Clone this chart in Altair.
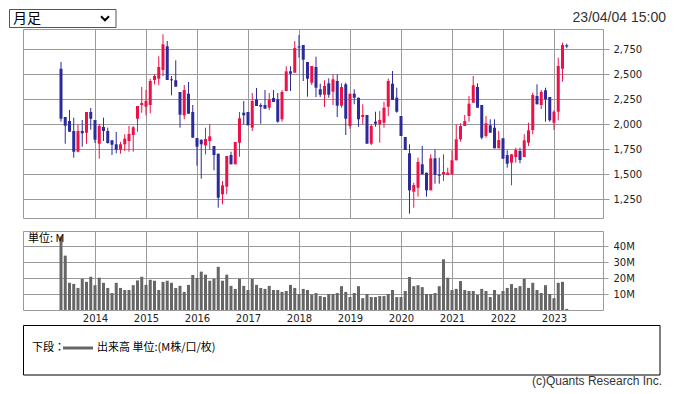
import altair as alt
import pandas as pd

# ---------------- data (monthly candles, May 2013 .. Apr 2023) ----------------
YEARS = ["2014", "2015", "2016", "2017", "2018", "2019", "2020", "2021", "2022", "2023"]
PRICE_TICKS = [1250, 1500, 1750, 2000, 2250, 2500, 2750]
VOLUME_TICKS = [10, 20, 30, 40]

OPEN = [2553, 2070, 2030, 1930, 1723, 1930, 1913, 2120, 2040, 1803,
        1970, 1930, 1837, 1797, 1743, 1797, 1830, 1890, 2053, 2190,
        2173, 2190, 2440, 2453, 2540, 2777, 2447, 2437, 2320, 2087,
        2303, 2120, 1860, 1843, 1787, 1830, 1780, 1703, 1297, 1373,
        1690, 1597, 1813, 2113, 2120, 1963, 2247, 2190, 2190, 2163,
        2260, 2247, 2047, 2330, 2527, 2513, 2775, 2790, 2620, 2413,
        2570, 2347, 2293, 2407, 2323, 2430, 2183, 2397, 1980, 2303,
        2263, 2070, 2090, 1803, 2023, 1997, 2013, 2173, 2403, 2263,
        2080, 1870, 1707, 1323, 1363, 1597, 1513, 1337, 1657, 1495,
        1497, 1490, 1497, 1637, 1847, 1980, 2080, 2213, 2370, 2190,
        1880, 1987, 1963, 1757, 1857, 1690, 1613, 1670, 1730, 1670,
        1813, 1940, 2280, 2190, 2337, 2270, 2013, 2123, 2553, 2787]
HIGH = [2620, 2070, 2140, 2063, 1997, 2040, 2120, 2160, 2040, 2003,
        2063, 1963, 1837, 1920, 1820, 1897, 1980, 1980, 2180, 2370,
        2340, 2453, 2497, 2677, 2897, 2830, 2480, 2637, 2320, 2390,
        2420, 2190, 1860, 1843, 1963, 1997, 1780, 1703, 1430, 1680,
        1723, 1820, 2120, 2230, 2120, 2310, 2360, 2207, 2340, 2310,
        2340, 2310, 2340, 2577, 2577, 2830, 2890, 2790, 2620, 2580,
        2673, 2403, 2437, 2457, 2497, 2497, 2407, 2413, 2303, 2347,
        2263, 2197, 2090, 1997, 2123, 2130, 2223, 2453, 2530, 2363,
        2080, 1870, 1797, 1413, 1663, 1780, 1513, 1697, 1747, 1663,
        1697, 1563, 1737, 1997, 2007, 2090, 2280, 2480, 2407, 2190,
        2080, 2047, 2047, 1930, 1857, 1737, 1697, 1763, 1763, 1897,
        2013, 2313, 2397, 2340, 2363, 2270, 2137, 2663, 2813, 2803]
LOW = [2023, 1803, 1920, 1663, 1717, 1773, 1803, 1943, 1810, 1653,
       1830, 1803, 1690, 1707, 1703, 1730, 1723, 1723, 1923, 2113,
       2087, 2107, 2397, 2387, 2480, 2440, 2287, 2373, 1963, 2047,
       2103, 1863, 1583, 1453, 1697, 1740, 1537, 1163, 1197, 1297,
       1597, 1597, 1673, 1997, 1987, 1930, 2180, 2003, 2153, 2140,
       2220, 2013, 2023, 2330, 2330, 2513, 2663, 2430, 2273, 2390,
       2270, 2270, 2170, 2263, 2190, 2070, 2163, 1890, 1953, 2197,
       1973, 1997, 1803, 1790, 1973, 1813, 1963, 2080, 2240, 2113,
       1880, 1740, 1103, 1163, 1273, 1497, 1273, 1337, 1403, 1403,
       1430, 1490, 1490, 1637, 1823, 1980, 2023, 2213, 2163, 1847,
       1863, 1913, 1757, 1757, 1653, 1563, 1387, 1613, 1607, 1670,
       1780, 1897, 2197, 2150, 2023, 2023, 1940, 2037, 2423, 2757]
CLOSE = [2053, 1983, 1923, 1723, 1930, 1907, 2120, 2053, 1843, 1980,
         1930, 1810, 1793, 1743, 1797, 1853, 1900, 1967, 2180, 2210,
         2230, 2430, 2480, 2570, 2797, 2440, 2437, 2373, 2093, 2340,
         2103, 1863, 1773, 1797, 1850, 1877, 1690, 1263, 1387, 1680,
         1597, 1820, 2057, 2087, 1987, 2230, 2180, 2173, 2153, 2247,
         2220, 2023, 2320, 2527, 2503, 2760, 2765, 2643, 2453, 2580,
         2363, 2293, 2380, 2293, 2447, 2183, 2370, 2053, 2303, 2263,
         2047, 2090, 1803, 1980, 2003, 2040, 2163, 2430, 2240, 2123,
         1880, 1740, 1337, 1390, 1620, 1497, 1337, 1657, 1490, 1483,
         1520, 1513, 1637, 1847, 1980, 2030, 2203, 2387, 2163, 1863,
         2007, 1913, 1757, 1840, 1653, 1603, 1697, 1740, 1640, 1837,
         1937, 2290, 2197, 2320, 2247, 2037, 2123, 2580, 2790, 2775]
VOLUME = [46, 34, 17, 16.3, 13.8, 19.5, 17.6, 20.8, 15.5, 20.2,
          17, 13.8, 10.6, 17, 13.8, 12.5, 12.5, 15.5, 18.5, 20.8,
          15.7, 18.9, 18.3, 12.5, 17.6, 18.3, 17, 13.8, 15.1, 11.3,
          15.7, 21.9, 20, 24, 22.1, 18.3, 19.5, 27, 18.3, 22.1,
          15.1, 13.2, 19.5, 15.1, 12.5, 19.5, 15.7, 13.8, 13.2, 15.1,
          12.5, 12.5, 11.3, 11.9, 15.7, 13.8, 10, 13.2, 12.5, 9.6,
          10.6, 8.7, 8.1, 10.0, 10.0, 10.6, 14.9, 11.3, 8.1, 10.6,
          14.9, 7.4, 10.0, 8.1, 8.1, 8.7, 8.7, 10.0, 12.5, 8.1,
          8.1, 11.9, 20.6, 14.9, 15.5, 14.3, 10.0, 10.0, 10.6, 14.9,
          31.7, 20.2, 12.5, 13.2, 18.1, 12.5, 11.9, 11.9, 9.4, 13.2,
          11.9, 8.1, 12.5, 9.4, 11.9, 13.8, 16.2, 13.8, 14.9, 19.5,
          13.8, 17.0, 12.5, 10.6, 15.5, 10.0, 7.4, 17.0, 17.6, 0.7]

df = pd.DataFrame({"k": list(range(len(OPEN))), "open": OPEN, "high": HIGH,
                   "low": LOW, "close": CLOSE, "volume": VOLUME})
one = pd.DataFrame({"_": [0]})

# ---------------- styles ----------------
RED = "#EE1148"
BLUE = "#2B2B9B"
GRID = "#9A9A9A"
VOLC = "#666666"
AXIS_FONT = "DejaVu Sans"
JP_FONT = "Noto Sans CJK JP"

W = 580
H_PRICE = 189
H_VOL = 79

year_ticks = [8 + 12 * i for i in range(len(YEARS))]
label_expr = "[" + ",".join("'%s'" % y for y in YEARS) + "][round((datum.value-8)/12)]"
x_scale = alt.Scale(domain=[-8.94, 127.53], nice=False, zero=False, padding=0)

color = alt.condition("datum.close >= datum.open", alt.value(RED), alt.value(BLUE))

# ---------------- price panel ----------------
price_x_axis = alt.Axis(values=year_ticks, grid=True, gridColor=GRID, labels=False,
                        ticks=False, domain=False, title=None)
price_y_axis = alt.Axis(values=PRICE_TICKS, orient="right",
                        labelExpr="format(datum.value, ',')", labelOverlap=False,
                        grid=True, gridColor=GRID, tickColor=GRID, tickSize=6, domain=False,
                        labelFont=AXIS_FONT, labelFontSize=10, labelColor="#222222",
                        labelPadding=4, title=None)
price_y_scale = alt.Scale(domain=[1060, 2950], nice=False, zero=False, padding=0)

base = alt.Chart(df)
wick = base.mark_rule(strokeWidth=1).encode(
    x=alt.X("k:Q", scale=x_scale, axis=price_x_axis),
    y=alt.Y("low:Q", scale=price_y_scale, axis=price_y_axis),
    y2="high:Q",
    color=color,
)
body = base.mark_bar(size=3).encode(
    x=alt.X("k:Q", scale=x_scale, axis=price_x_axis),
    y=alt.Y("open:Q", scale=price_y_scale, axis=price_y_axis),
    y2="close:Q",
    color=color,
)

deco = alt.Chart(one)
dropdown = deco.mark_rect(fill="white", stroke="#555555", strokeWidth=1).encode(
    x=alt.value(-13.5), x2=alt.value(93), y=alt.value(-19.5), y2=alt.value(-1.5))
dropdown_text = deco.mark_text(align="left", baseline="middle", font=JP_FONT,
                               fontSize=14, color="black").encode(
    x=alt.value(-10), y=alt.value(-10.5), text=alt.value("月足"))
chevron = deco.mark_point(shape="M-1,-0.55L0,0.45L1,-0.55", filled=False,
                          strokeWidth=2, size=64, color="black", opacity=1).encode(
    x=alt.value(82), y=alt.value(-10.5))
date_text = deco.mark_text(align="right", baseline="middle", font="Liberation Sans",
                           fontSize=14, color="#333333").encode(
    x=alt.value(643), y=alt.value(-11), text=alt.value("23/04/04 15:00"))

price = alt.layer(wick, body, dropdown, dropdown_text, chevron, date_text).properties(
    width=W, height=H_PRICE)

# ---------------- volume panel ----------------
vol_x_axis = alt.Axis(values=year_ticks, grid=True, gridColor=GRID, labels=True,
                      labelExpr=label_expr, ticks=False, domain=False, title=None,
                      labelFont=AXIS_FONT, labelFontSize=10, labelColor="#222222",
                      labelPadding=3)
vol_y_axis = alt.Axis(values=VOLUME_TICKS, orient="right", labelExpr="datum.value + 'M'",
                      labelOverlap=False,
                      grid=True, gridColor=GRID, tickColor=GRID, tickSize=5, domain=False,
                      labelFont=AXIS_FONT, labelFontSize=10, labelColor="#222222",
                      labelPadding=5, title=None)

vol_bars = alt.Chart(df).mark_bar(size=3, color=VOLC).encode(
    x=alt.X("k:Q", scale=x_scale, axis=vol_x_axis),
    y=alt.Y("volume:Q", scale=alt.Scale(domain=[0, 49.4], nice=False, padding=0),
            axis=vol_y_axis),
)
unit_text = deco.mark_text(align="left", baseline="middle", font=JP_FONT, fontSize=11,
                           color="black").encode(
    x=alt.value(5), y=alt.value(8), text=alt.value("単位: M"))
spacer = deco.mark_rect(opacity=0).encode(
    x=alt.value(-14), x2=alt.value(-13), y=alt.value(0), y2=alt.value(1))
legend_box = deco.mark_rect(fill="white", stroke="black", strokeWidth=1).encode(
    x=alt.value(0.5), x2=alt.value(637), y=alt.value(94.5), y2=alt.value(144))
legend_lbl = deco.mark_text(align="left", baseline="middle", font=JP_FONT, fontSize=11,
                            color="black").encode(
    x=alt.value(9), y=alt.value(117), text=alt.value("下段："))
legend_line = deco.mark_rect(fill=VOLC).encode(
    x=alt.value(40), x2=alt.value(70), y=alt.value(115.5), y2=alt.value(118.5))
legend_txt = deco.mark_text(align="left", baseline="middle", font=JP_FONT, fontSize=11,
                            color="black").encode(
    x=alt.value(74), y=alt.value(117), text=alt.value("出来高 単位:(M株/口/枚)"))
copyright_txt = deco.mark_text(align="right", baseline="bottom", font="Liberation Sans",
                               fontSize=12, color="#333333").encode(
    x=alt.value(639), y=alt.value(157), text=alt.value("(c)Quants Research Inc."))

volume = alt.layer(vol_bars, unit_text, spacer, legend_box, legend_lbl, legend_line,
                   legend_txt, copyright_txt).properties(width=W, height=H_VOL)

chart = alt.vconcat(price, volume, spacing=11).properties(
    padding=0, background="white"
).configure_view(stroke=GRID, strokeWidth=1)

chart.save("out.html", embed_options={"renderer": "svg", "actions": False})
